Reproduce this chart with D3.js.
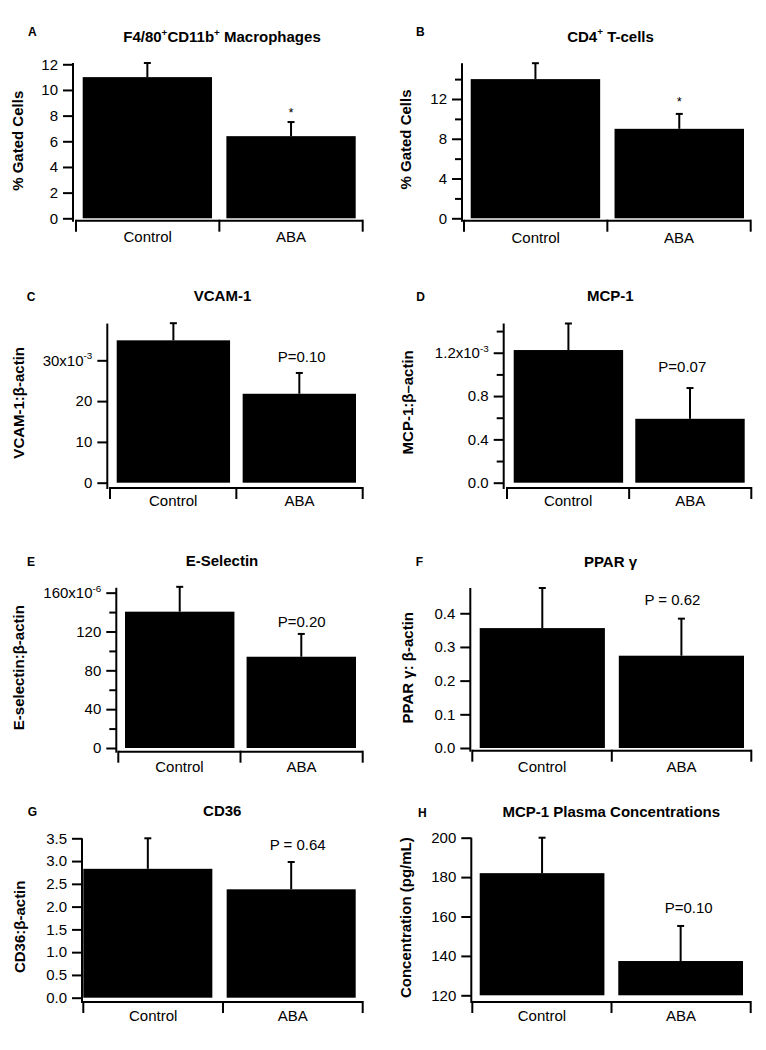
<!DOCTYPE html>
<html><head><meta charset="utf-8">
<script src="https://cdn.jsdelivr.net/npm/d3@7"></script>
<style>
body{margin:0;background:#fff}
svg{display:block}
text{font-family:"Liberation Sans",Arial,Helvetica,sans-serif;fill:#000}
</style>
</head><body>
<svg id="chart" width="766" height="1050"></svg>
<script>
// ---------------- DATA ----------------
const categories = ["Control", "ABA"];
const panelLetters = ["A", "B", "C", "D", "E", "F", "G", "H"];
const panelTitles = ["F4/80{+}CD11b{+} Macrophages", "CD4{+} T-cells", "VCAM-1", "MCP-1",
                     "E-Selectin", "PPAR γ", "CD36", "MCP-1 Plasma Concentrations"];
const yAxisTitles = ["% Gated Cells", "% Gated Cells", "VCAM-1:β-actin", "MCP-1:β–actin",
                     "E-selectin:β-actin", "PPAR γ: β-actin", "CD36:β-actin", "Concentration (pg/mL)"];
const annotations = ["*", "*", "P=0.10", "P=0.07", "P=0.20", "P = 0.62", "P = 0.64", "P=0.10"];

// A: F4/80+CD11b+ macrophages (% gated cells)
const macrophageMean = [11.0, 6.4];
const macrophageSem  = [1.1, 1.1];
const macrophageDomain = [0, 12.1];
const macrophageTicks = [0, 2, 4, 6, 8, 10, 12];
const macrophageTickLabels = ["0", "2", "4", "6", "8", "10", "12"];
const macrophageMinor = [];

// B: CD4+ T-cells (% gated cells)
const cd4Mean = [14.0, 9.0];
const cd4Sem  = [1.6, 1.5];
const cd4Domain = [0, 15.6];
const cd4Ticks = [0, 4, 8, 12];
const cd4TickLabels = ["0", "4", "8", "12"];
const cd4Minor = [2, 6, 10, 14];

// C: VCAM-1 : β-actin
const vcamMean = [0.0349, 0.0218];
const vcamSem  = [0.0042, 0.0051];
const vcamDomain = [0, 0.039];
const vcamTicks = [0, 0.01, 0.02, 0.03];
const vcamTickLabels = ["0", "10", "20", "30x10{-3}"];
const vcamMinor = [];

// D: MCP-1 : β-actin
const mcpMean = [0.001225, 0.00059];
const mcpSem  = [0.000245, 0.000284];
const mcpDomain = [0, 0.00147];
const mcpTicks = [0, 0.0004, 0.0008, 0.0012];
const mcpTickLabels = ["0.0", "0.4", "0.8", "1.2x10{-3}"];
const mcpMinor = [0.0002, 0.0006, 0.0010, 0.0014];

// E: E-selectin : β-actin
const eselMean = [0.0001404, 0.000094];
const eselSem  = [0.0000256, 0.0000235];
const eselDomain = [0, 0.000165];
const eselTicks = [0, 0.00004, 0.00008, 0.00012, 0.00016];
const eselTickLabels = ["0", "40", "80", "120", "160x10{-6}"];
const eselMinor = [0.00002, 0.00006, 0.00010, 0.00014];

// F: PPAR γ : β-actin
const pparMean = [0.356, 0.274];
const pparSem  = [0.119, 0.110];
const pparDomain = [0, 0.475];
const pparTicks = [0, 0.1, 0.2, 0.3, 0.4];
const pparTickLabels = ["0.0", "0.1", "0.2", "0.3", "0.4"];
const pparMinor = [];

// G: CD36 : β-actin
const cd36Mean = [2.83, 2.38];
const cd36Sem  = [0.67, 0.60];
const cd36Domain = [0, 3.5];
const cd36Ticks = [0, 0.5, 1.0, 1.5, 2.0, 2.5, 3.0, 3.5];
const cd36TickLabels = ["0.0", "0.5", "1.0", "1.5", "2.0", "2.5", "3.0", "3.5"];
const cd36Minor = [];

// H: MCP-1 plasma concentrations (pg/mL)
const plasmaMean = [182, 137.4];
const plasmaSem  = [18, 17.8];
const plasmaDomain = [120, 200];
const plasmaTicks = [120, 140, 160, 180, 200];
const plasmaTickLabels = ["120", "140", "160", "180", "200"];
const plasmaMinor = [];

const panelData = [
  {mean: macrophageMean, sem: macrophageSem, domain: macrophageDomain, ticks: macrophageTicks, labels: macrophageTickLabels, minor: macrophageMinor},
  {mean: cd4Mean, sem: cd4Sem, domain: cd4Domain, ticks: cd4Ticks, labels: cd4TickLabels, minor: cd4Minor},
  {mean: vcamMean, sem: vcamSem, domain: vcamDomain, ticks: vcamTicks, labels: vcamTickLabels, minor: vcamMinor},
  {mean: mcpMean, sem: mcpSem, domain: mcpDomain, ticks: mcpTicks, labels: mcpTickLabels, minor: mcpMinor},
  {mean: eselMean, sem: eselSem, domain: eselDomain, ticks: eselTicks, labels: eselTickLabels, minor: eselMinor},
  {mean: pparMean, sem: pparSem, domain: pparDomain, ticks: pparTicks, labels: pparTickLabels, minor: pparMinor},
  {mean: cd36Mean, sem: cd36Sem, domain: cd36Domain, ticks: cd36Ticks, labels: cd36TickLabels, minor: cd36Minor},
  {mean: plasmaMean, sem: plasmaSem, domain: plasmaDomain, ticks: plasmaTicks, labels: plasmaTickLabels, minor: plasmaMinor}
];

// ---------------- LAYOUT ----------------
// ax: y-axis x; yb/yt: pixel of domain min/max; xa: x-axis line y; xs/xe: x-axis extent;
// bl/br: bar band range; letter/title/ylab: text anchors; cat: category label baseline; ann: [dx, gap]
const layout = [
  {ax:73,    yb:218.3, yt:63.0,  xa:220.7, xs:76,    xe:362.7, bl:82.7,  br:355.7, letter:[28,36],    title:[222,42.3],   ylab:[23,140.8],  cat:242.3, ann:[0,12]},
  {ax:462,   yb:218.3, yt:63.2,  xa:220.7, xs:464,   xe:750.7, bl:470.7, br:744,   letter:[416,36],   title:[610.5,41.7], ylab:[411,139.5],  cat:242.5, ann:[0,14.6]},
  {ax:107.3, yb:482.7, yt:323.6, xa:488,   xs:110,   xe:362.7, bl:116.7, br:356,   letter:[26.7,301], title:[222.5,301],  ylab:[24.3,402.8], cat:506.3, ann:[2.4,16.7]},
  {ax:503.7, yb:482.7, yt:323.5, xa:488,   xs:507,   xe:751.3, bl:513.7, br:744.7, letter:[416.3,301],title:[610.3,301],  ylab:[413,402.3],  cat:506,   ann:[-7.7,21]},
  {ax:116.3, yb:748,   yt:587.8, xa:751.7, xs:118.3, xe:362.7, bl:125,   br:356,   letter:[27,566.3], title:[222,566.3],  ylab:[24,667.7],   cat:771.8, ann:[0.4,12.3]},
  {ax:470.3, yb:748,   yt:588,   xa:750.7, xs:472.3, xe:751.3, bl:479.7, br:744,   letter:[415.7,566],title:[610.5,567.3],ylab:[413,667.7],  cat:772,   ann:[-9,19]},
  {ax:82,    yb:997.7, yt:838.3, xa:1002,  xs:83.3,  xe:362.7, bl:83.3,  br:355.7, letter:[27.7,816], title:[222.3,816],  ylab:[25,926.8],   cat:1021,  ann:[6.5,17]},
  {ax:471.3, yb:995.3, yt:837.7, xa:1002,  xs:472.3, xe:750.7, bl:479.7, br:743,   letter:[418,816.7],title:[611.3,816.7],ylab:[410.7,917.7],cat:1021,  ann:[8,18]}
];

// ---------------- DRAW ----------------
const svg = d3.select("#chart");

function addRich(textSel, str, fs) {
  const parts = str.split(/(\{[^}]*\})/).filter(s => s.length);
  const shift = fs * 0.42;
  let raised = false;
  parts.forEach(p => {
    if (p.startsWith("{")) {
      textSel.append("tspan").attr("dy", -shift).attr("font-size", fs * 0.66).text(p.slice(1, -1));
      raised = true;
    } else {
      const t = textSel.append("tspan").text(p);
      if (raised) { t.attr("dy", shift); raised = false; }
    }
  });
}

panelData.forEach((d, i) => {
  const L = layout[i];
  const g = svg.append("g");

  const y = d3.scaleLinear().domain(d.domain).range([L.yb, L.yt]);
  const xCat = d3.scaleBand().domain(categories).range([L.xs, L.xe]);
  const xBar = d3.scaleBand().domain(categories).range([L.bl, L.br]).paddingInner(0.1).paddingOuter(0);

  // bars
  g.selectAll("rect.bar").data(categories).join("rect")
    .attr("class", "bar")
    .attr("x", c => xBar(c))
    .attr("width", xBar.bandwidth())
    .attr("y", (c, k) => y(d.mean[k]))
    .attr("height", (c, k) => y(d.domain[0]) - y(d.mean[k]))
    .attr("fill", "#000");

  // error bars (upper only)
  categories.forEach((c, k) => {
    const cx = xBar(c) + xBar.bandwidth() / 2;
    const top = y(d.mean[k] + d.sem[k]);
    g.append("line").attr("x1", cx).attr("x2", cx).attr("y1", y(d.mean[k])).attr("y2", top)
      .attr("stroke", "#000").attr("stroke-width", 2);
    g.append("line").attr("x1", cx - 3.5).attr("x2", cx + 3.5).attr("y1", top).attr("y2", top)
      .attr("stroke", "#000").attr("stroke-width", 2);
  });

  // y axis (major)
  const yAx = g.append("g").attr("transform", `translate(${L.ax},0)`)
    .call(d3.axisLeft(y).tickValues(d.ticks).tickFormat((v, k) => d.labels[k])
      .tickSize(10).tickPadding(5).tickSizeOuter(0));
  yAx.select(".domain").remove();
  yAx.attr("font-family", null).attr("font-size", null);
  yAx.selectAll(".tick line").attr("stroke", "#000").attr("stroke-width", 2);
  yAx.selectAll(".tick text").attr("font-size", 15).attr("fill", "#000")
    .each(function(v, k) {
      const s = d.labels[k];
      if (s.includes("{")) { const t = d3.select(this); t.text(null); addRich(t, s, 15); }
    });

  // y axis (minor)
  if (d.minor.length) {
    const yMin = g.append("g").attr("transform", `translate(${L.ax},0)`)
      .call(d3.axisLeft(y).tickValues(d.minor).tickFormat("").tickSize(7).tickSizeOuter(0));
    yMin.select(".domain").remove();
    yMin.selectAll(".tick line").attr("stroke", "#000").attr("stroke-width", 2);
  }

  // y axis line
  g.append("line").attr("x1", L.ax).attr("x2", L.ax).attr("y1", y.range()[1]).attr("y2", L.xa + 1)
    .attr("stroke", "#000").attr("stroke-width", 2);

  // x axis
  g.append("line").attr("x1", L.xs).attr("x2", L.xe).attr("y1", L.xa).attr("y2", L.xa)
    .attr("stroke", "#000").attr("stroke-width", 2);
  const edges = categories.map(c => xCat(c)).concat([xCat.range()[1]]);
  g.selectAll("line.xtick").data(edges).join("line").attr("class", "xtick")
    .attr("x1", e => e).attr("x2", e => e).attr("y1", L.xa - 1).attr("y2", L.xa + 11)
    .attr("stroke", "#000").attr("stroke-width", 2);
  g.selectAll("text.cat").data(categories).join("text").attr("class", "cat")
    .attr("x", c => xCat(c) + xCat.bandwidth() / 2).attr("y", L.cat)
    .attr("text-anchor", "middle").attr("font-size", 15).text(c => c);

  // y axis title
  g.append("text")
    .attr("transform", `translate(${L.ylab[0]},${L.ylab[1]}) rotate(-90)`)
    .attr("text-anchor", "middle").attr("font-size", 15).attr("font-weight", "bold")
    .text(yAxisTitles[i]);

  // panel title
  const tt = g.append("text").attr("x", L.title[0]).attr("y", L.title[1])
    .attr("text-anchor", "middle").attr("font-size", 15).attr("font-weight", "bold");
  addRich(tt, panelTitles[i], 15);

  // panel letter
  g.append("text").attr("x", L.letter[0]).attr("y", L.letter[1])
    .attr("font-size", 12).attr("font-weight", "bold").text(panelLetters[i]);

  // annotation above ABA bar
  const ann = annotations[i];
  const abaX = xBar("ABA") + xBar.bandwidth() / 2 + L.ann[0];
  const errTop = y(d.mean[1] + d.sem[1]);
  const centerY = errTop - L.ann[1];
  if (ann === "*") {
    g.append("text").attr("x", abaX).attr("y", centerY + 7).attr("text-anchor", "middle")
      .attr("font-size", 13).attr("fill", "#333").text(ann);
  } else {
    g.append("text").attr("x", abaX).attr("y", centerY + 5.4).attr("text-anchor", "middle")
      .attr("font-size", 15).text(ann);
  }
});
</script>
</body></html>
